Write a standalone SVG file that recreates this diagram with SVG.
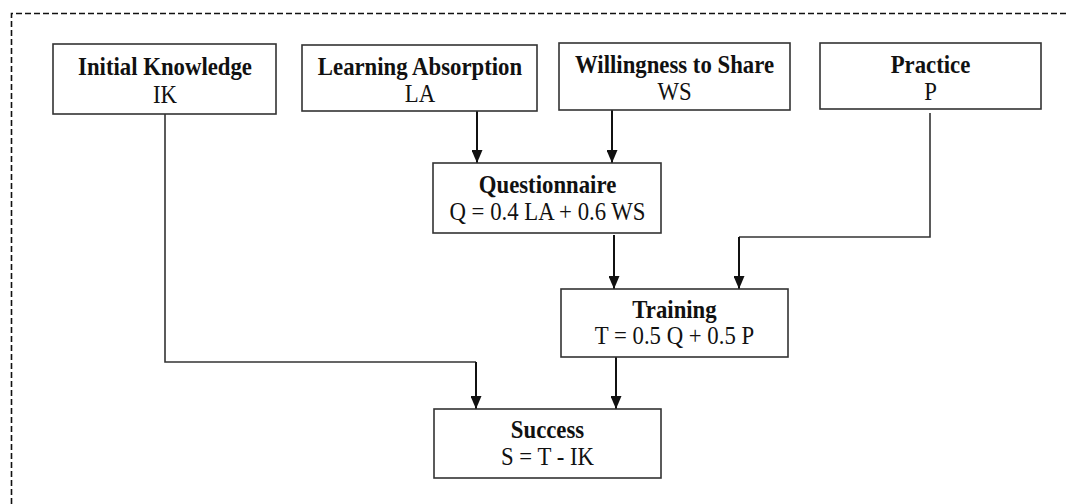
<svg xmlns="http://www.w3.org/2000/svg" width="1068" height="504" viewBox="0 0 1068 504">
<style>
.box{fill:#fff;stroke:#333;stroke-width:1.6}
.t1{font-family:"Liberation Serif","Times New Roman",serif;font-size:24.5px;font-weight:bold;fill:#111;text-anchor:middle}
.t2{font-family:"Liberation Serif","Times New Roman",serif;font-size:24.5px;fill:#111;text-anchor:middle}
.arr{fill:none;stroke:#111;stroke-width:2;marker-end:url(#ah)}
.thin{fill:none;stroke:#333;stroke-width:1.6}
</style>
<defs>
<marker id="ah" viewBox="0 0 13 11" refX="13" refY="5.5" markerWidth="13" markerHeight="11" markerUnits="userSpaceOnUse" orient="auto">
<path d="M0,0 L13,5.5 L0,11 Z" fill="#111"/>
</marker>
</defs>
<rect width="1068" height="504" fill="#fff"/>
<path d="M11.5,504 V13.5 H1068" fill="none" stroke="#111" stroke-width="1.6" stroke-dasharray="6,3"/>
<g id="connectors">
<path class="thin" d="M165,114 V362 H476"/>
<path class="arr" d="M476,362 V409"/>
<path class="arr" d="M477,111 V163"/>
<path class="arr" d="M612,110 V163"/>
<path class="thin" d="M930,113 V237 H739"/>
<path class="arr" d="M739,237 V289"/>
<path class="arr" d="M614,235 V289"/>
<path class="arr" d="M616,357 V409"/>
</g>
<g id="node-ik">
<rect class="box" x="53" y="44" width="223" height="70"/>
<g transform="translate(165,0) scale(0.93,1)">
<text class="t1" x="0" y="75">Initial Knowledge</text>
<text class="t2" x="0" y="103">IK</text>
</g>
</g>
<g id="node-la">
<rect class="box" x="302" y="45" width="235" height="66"/>
<g transform="translate(420,0) scale(0.93,1)">
<text class="t1" x="0" y="75">Learning Absorption</text>
<text class="t2" x="0" y="102">LA</text>
</g>
</g>
<g id="node-ws">
<rect class="box" x="559" y="43" width="231" height="67"/>
<g transform="translate(674.5,0) scale(0.93,1)">
<text class="t1" x="0" y="73">Willingness to Share</text>
<text class="t2" x="0" y="100">WS</text>
</g>
</g>
<g id="node-p">
<rect class="box" x="820" y="43" width="221" height="66"/>
<g transform="translate(930.5,0) scale(0.93,1)">
<text class="t1" x="0" y="73">Practice</text>
<text class="t2" x="0" y="100">P</text>
</g>
</g>
<g id="node-q">
<rect class="box" x="433" y="163" width="228" height="70"/>
<g transform="translate(547.5,0) scale(0.93,1)">
<text class="t1" x="0" y="193">Questionnaire</text>
<text class="t2" x="0" y="220">Q = 0.4 LA + 0.6 WS</text>
</g>
</g>
<g id="node-t">
<rect class="box" x="561" y="289" width="227" height="68"/>
<g transform="translate(674.5,0) scale(0.93,1)">
<text class="t1" x="0" y="318">Training</text>
<text class="t2" x="0" y="344">T = 0.5 Q + 0.5 P</text>
</g>
</g>
<g id="node-s">
<rect class="box" x="434" y="409" width="227" height="69"/>
<g transform="translate(547.5,0) scale(0.93,1)">
<text class="t1" x="0" y="438">Success</text>
<text class="t2" x="0" y="465">S = T - IK</text>
</g>
</g>
</svg>
